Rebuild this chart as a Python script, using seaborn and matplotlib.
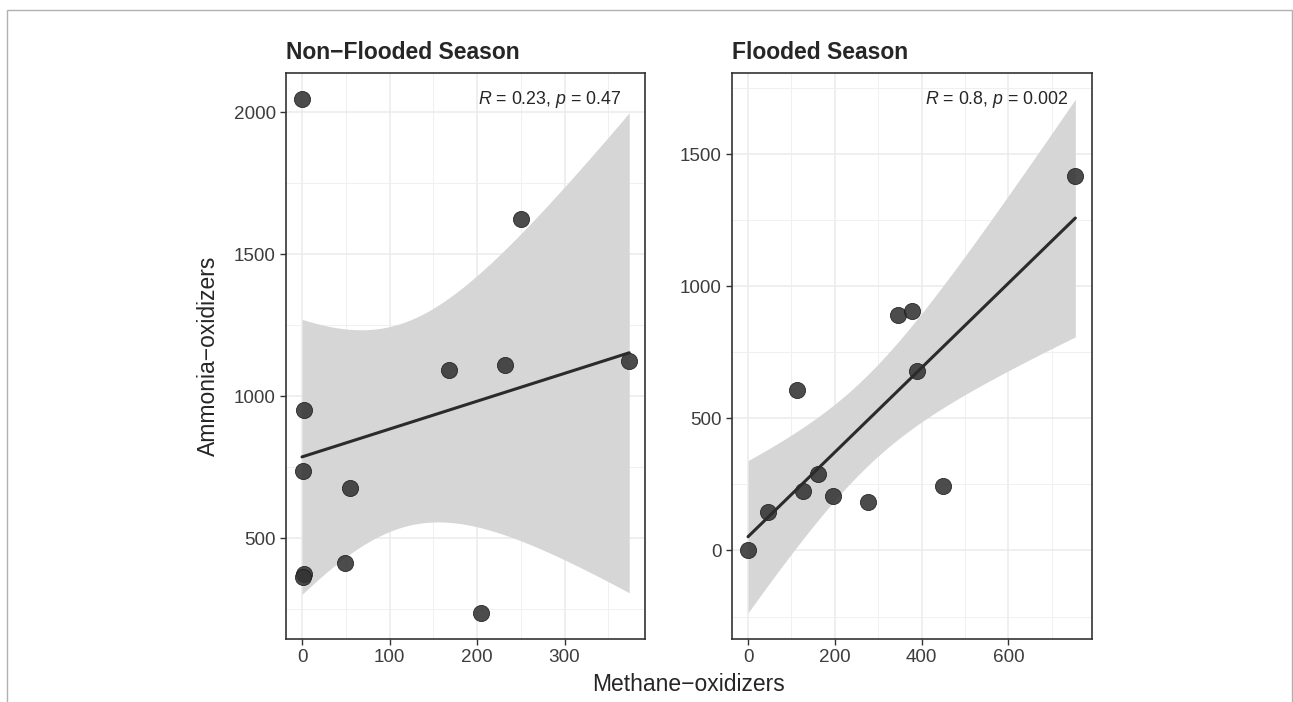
import numpy as np
import pandas as pd
import matplotlib
matplotlib.use("Agg")
import matplotlib.pyplot as plt
import matplotlib.patches as mpatches
from matplotlib.ticker import MultipleLocator
import seaborn as sns

# ---- data ----
methane_nonflooded = [0, 250.5, 168, 231.5, 374, 2, 1, 55, 49, 2, 1, 204]
ammonia_nonflooded = [2047, 1624, 1094, 1109, 1124, 953, 735, 675, 414, 373, 363, 236]
methane_flooded = [754, 345, 378, 389, 113, 160, 125.5, 195, 277, 449, 47, 0]
ammonia_flooded = [1419, 893, 908, 679, 606, 288, 225, 206, 182, 244, 147, 0]

panel_titles = ["Non\u2212Flooded Season", "Flooded Season"]
stat_labels = [r"$\it{R}$ = 0.23, $\it{p}$ = 0.47", r"$\it{R}$ = 0.8, $\it{p}$ = 0.002"]
x_label = "Methane\u2212oxidizers"
y_label = "Ammonia\u2212oxidizers"

sns.set_theme(style="white")
plt.rcParams['font.family'] = ['Liberation Sans', 'DejaVu Sans']
plt.rcParams['mathtext.fontset'] = 'custom'
plt.rcParams['mathtext.rm'] = 'Liberation Sans'
plt.rcParams['mathtext.it'] = 'Liberation Sans:italic'

W, H = 1293, 702
fig = plt.figure(figsize=(W / 100, H / 100), dpi=100)
fig.patch.set_facecolor("white")

# outer light border of the figure image
fig.patches.append(mpatches.Rectangle((7 / W, -0.05), (1292 - 7) / W, 1.05 - 10 / H,
                                      transform=fig.transFigure, fill=False,
                                      edgecolor="#b0b0b0", linewidth=1.0))

def px_axes(x0, y0, x1, y1):
    return fig.add_axes([x0 / W, 1 - y1 / H, (x1 - x0) / W, (y1 - y0) / H])

ax1 = px_axes(285.7, 73.3, 645.0, 639.3)
ax2 = px_axes(731.7, 73.3, 1091.7, 639.0)

try:
    from scipy import stats
    tq = stats.t.ppf(0.975, 10)
except Exception:
    tq = 2.228

panels = [
    (ax1, methane_nonflooded, ammonia_nonflooded, (-18.65, 392.0), (144, 2137), 100, 500),
    (ax2, methane_flooded, ammonia_flooded, (-37.7, 791.7), (-335, 1806), 200, 500),
]

for i, (ax, xs, ys, xlim, ylim, xmaj, ymaj) in enumerate(panels):
    df = pd.DataFrame({"x": xs, "y": ys})
    x = np.asarray(xs, float)
    y = np.asarray(ys, float)
    n = len(x)
    b, a = np.polyfit(x, y, 1)
    grid = np.linspace(x.min(), x.max(), 200)
    fit = a + b * grid
    resid = y - (a + b * x)
    s = np.sqrt(np.sum(resid ** 2) / (n - 2))
    se = s * np.sqrt(1 / n + (grid - x.mean()) ** 2 / np.sum((x - x.mean()) ** 2))
    ax.fill_between(grid, fit - tq * se, fit + tq * se, color="#d6d6d6", linewidth=0, zorder=1)

    sns.regplot(data=df, x="x", y="y", ax=ax, ci=None, truncate=True,
                scatter_kws=dict(s=135, color="#333333", alpha=0.88,
                                 edgecolor="#1a1a1a", linewidths=0.6, zorder=3),
                line_kws=dict(color="#2b2b2b", linewidth=2.2, zorder=4))

    ax.set_xlim(*xlim)
    ax.set_ylim(*ylim)
    ax.xaxis.set_major_locator(MultipleLocator(xmaj))
    ax.xaxis.set_minor_locator(MultipleLocator(xmaj / 2))
    ax.yaxis.set_major_locator(MultipleLocator(ymaj))
    ax.yaxis.set_minor_locator(MultipleLocator(ymaj / 2))
    ax.set_axisbelow(True)
    ax.grid(which="major", color="#ebebeb", linewidth=1.1, zorder=0)
    ax.grid(which="minor", color="#f0f0f0", linewidth=0.7, zorder=0)
    for sp in ax.spines.values():
        sp.set_visible(True)
        sp.set_color("#333333")
        sp.set_linewidth(1.2)
    ax.tick_params(axis="both", which="major", direction="out", length=4, width=1.0,
                   color="#333333", labelsize=13.6, labelcolor="#3d3d3d", pad=3,
                   bottom=True, left=True)
    ax.tick_params(axis="both", which="minor", length=0)
    ax.set_xlabel("")
    ax.set_ylabel("")
    ax.set_title(panel_titles[i], loc="left", fontsize=16.5, fontweight="bold",
                 color="#262626", pad=10)
    ax.text(0.934, 0.954, stat_labels[i], transform=ax.transAxes, ha="right", va="center",
            fontsize=12.8, color="#262626")

fig.text(688.7 / W, 1 - 684.7 / H, x_label, ha="center", va="center", fontsize=16.5, color="#262626")
fig.text(208 / W, 1 - 356.3 / H, y_label, ha="center", va="center", rotation=90,
         fontsize=16.5, color="#262626")

fig.savefig("out.png", dpi=100, facecolor="white")
